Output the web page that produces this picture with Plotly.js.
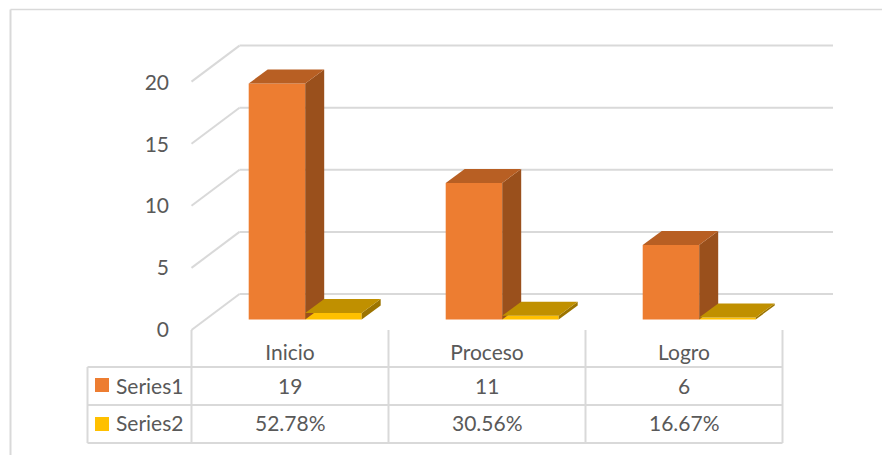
<!DOCTYPE html>
<html>
<head>
<meta charset="utf-8">
<script src="https://cdn.plot.ly/plotly-3.0.1.min.js"></script>
<style>html,body{margin:0;padding:0;background:#fff;overflow:hidden}#chart{width:882px;height:455px}</style>
</head>
<body>
<div id="chart"></div>
<script>
// ---- data ----
const categories = ['Inicio', 'Proceso', 'Logro'];
const seriesNames = ['Series1', 'Series2'];
const series1 = [19, 11, 6];
const series2 = [0.5278, 0.3056, 0.1667];
const series2Labels = ['52.78%', '30.56%', '16.67%'];
const yTicks = [0, 5, 10, 15, 20];

// ---- appearance ----
const W = 882, H = 455;
const FONT = 'Lato, "Open Sans", sans-serif';
const TXT = '#595959', GRID = '#d9d9d9';
const colors = {
  s1: {front: '#ED7D31', side: '#9A501C', top: '#B85F23'},
  s2: {front: '#FFC000', side: '#9C7400', top: '#C09000'}
};
const unitX = 197, originX = 290;          // px per category, px of category 0
const unitY = 12.42, originY = 319.5;      // px per value unit, px of value 0 (bar plane)
const barW = 56.5 / unitX, shift = 15.2 / unitX;
const depthX = 19 / unitX, depthY = 14 / unitY;
const wallDX = 48 / unitX, frontDY = -10.5 / unitY, backDY = 25.5 / unitY;
const left = -0.5, right = (833 - originX) / unitX;
const px = v => v / W, py = v => 1 - v / H;

const xRange = [(0 - originX) / unitX, (W - originX) / unitX];
const yRange = [(originY - H) / unitY, originY / unitY];
const tickY0 = 329.5, tickUnit = 12.35;
const y2Range = [(tickY0 - H) / tickUnit, tickY0 / tickUnit];

// ---- faces ----
function face(x, y, color) {
  return {type: 'scatter', mode: 'lines', x, y, fill: 'toself', fillcolor: color,
          line: {width: 0, color}, hoverinfo: 'skip', showlegend: false};
}
function sideFaces(values, offs, c) {
  const out = [];
  values.forEach((v, i) => {
    const x0 = i + offs, x1 = x0 + barW;
    out.push(face([x1, x1 + depthX, x1 + depthX, x1, x1], [0, depthY, v + depthY, v, 0], c.side));
    out.push(face([x0, x0 + depthX, x1 + depthX, x1, x0], [v, v + depthY, v + depthY, v, v], c.top));
  });
  return out;
}
const xs = categories.map((_, i) => i);
const traces = [
  {type: 'bar', name: seriesNames[0], x: xs, y: series1, width: barW, offset: shift - barW,
   marker: {color: colors.s1.front, line: {width: 0}}, hoverinfo: 'skip'},
  {type: 'bar', name: seriesNames[1], x: xs, y: series2, width: barW, offset: shift,
   marker: {color: colors.s2.front, line: {width: 0}}, hoverinfo: 'skip'},
  ...sideFaces(series1, shift - barW, colors.s1),
  ...sideFaces(series2, shift, colors.s2),
  {type: 'scatter', mode: 'markers', x: yTicks.map(() => left), y: yTicks, yaxis: 'y2',
   marker: {size: 1, opacity: 0}, hoverinfo: 'skip', showlegend: false}
];

// ---- gridlines and table ----
const lineStyle = {color: GRID, width: 2};
const shapes = [];
yTicks.forEach(v => {
  shapes.push({type: 'line', layer: 'below', xref: 'x', yref: 'y', x0: left, x1: left + wallDX,
    y0: v + frontDY, y1: v + backDY, line: lineStyle});
  shapes.push({type: 'line', layer: 'below', xref: 'x', yref: 'y', x0: left + wallDX, x1: right,
    y0: v + backDY, y1: v + backDY, line: lineStyle});
});
// chart frame
shapes.push({type: 'line', xref: 'paper', yref: 'paper', x0: px(10.5), x1: 1, y0: py(9.5), y1: py(9.5), line: {color: GRID, width: 1.5}});
shapes.push({type: 'line', xref: 'paper', yref: 'paper', x0: px(10.5), x1: px(10.5), y0: py(9.5), y1: 0, line: {color: GRID, width: 2}});
// table rows
[367, 405, 443].forEach(r => shapes.push({type: 'line', xref: 'paper', yref: 'paper',
  x0: px(87.5), x1: px(782.5), y0: py(r), y1: py(r), line: lineStyle}));
// table columns
[-0.5, 0.5, 1.5, 2.5].forEach(c => shapes.push({type: 'line', xref: 'x', yref: 'paper',
  x0: c, x1: c, y0: py(330), y1: py(443), line: lineStyle}));
shapes.push({type: 'line', xref: 'paper', yref: 'paper', x0: px(87.5), x1: px(87.5), y0: py(367), y1: py(443), line: lineStyle});
// legend keys
[[378, colors.s1.front], [417, colors.s2.front]].forEach(([t, c]) => shapes.push({type: 'rect', xref: 'paper', yref: 'paper',
  x0: px(95), x1: px(109), y0: py(t), y1: py(t + 14), fillcolor: c, line: {width: 0}}));

const textFont = {family: FONT, size: 21, color: TXT};
const annotations = [];
function cell(x, y, text, xref, xanchor) {
  annotations.push({xref, yref: 'paper', x, y: py(y), text: String(text), showarrow: false,
    xanchor, yanchor: 'middle', font: textFont});
}
series1.forEach((v, i) => cell(i, 385.5, v, 'x', 'center'));
series2Labels.forEach((v, i) => cell(i, 422.5, v, 'x', 'center'));
seriesNames.forEach((n, i) => cell(px(114), i ? 422.5 : 385.5, n, 'paper', 'left'));

const layout = {
  width: W, height: H, margin: {l: 0, r: 0, t: 0, b: 0},
  paper_bgcolor: '#fff', plot_bgcolor: '#fff', showlegend: false, barmode: 'overlay',
  xaxis: {range: xRange, type: 'linear', tickmode: 'array', tickvals: xs, ticktext: categories,
    anchor: 'free', position: py(338), side: 'bottom', showgrid: false, zeroline: false, showline: false,
    ticks: '', tickfont: textFont},
  yaxis: {range: yRange, visible: false, showgrid: false, zeroline: false},
  yaxis2: {range: y2Range, overlaying: 'y', anchor: 'free', position: px(169), side: 'left',
    tickmode: 'array', tickvals: yTicks, showgrid: false, zeroline: false, showline: false,
    ticks: '', tickfont: {family: FONT, size: 21, color: TXT}},
  shapes, annotations
};
Plotly.newPlot('chart', traces, layout, {displayModeBar: false, staticPlot: true});
</script>
</body>
</html>
